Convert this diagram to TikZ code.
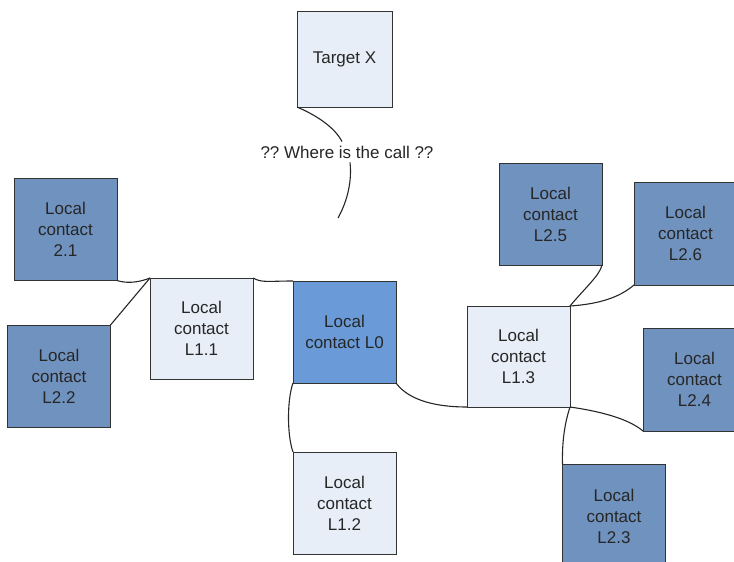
\documentclass[tikz,border=0pt]{standalone}
\usepackage{fontspec}
\setmainfont{Liberation Sans}
\usepackage{tikz}
\usetikzlibrary{positioning}
\definecolor{darkbox}{RGB}{112,146,190}
\definecolor{midbox}{RGB}{106,155,216}
\definecolor{lightbox}{RGB}{232,238,248}
\definecolor{edge}{RGB}{51,51,51}
\tikzstyle{contact} = [rectangle, minimum width=103pt, minimum height=102pt, inner sep=0pt, outer sep=0pt, align=center, draw=edge, line width=1pt, font=\fontsize{17}{21}\selectfont, text=black!85]
\tikzstyle{outer} = [contact, fill=darkbox]
\tikzstyle{inner} = [contact, fill=lightbox]
\tikzstyle{home} = [contact, fill=midbox]
\tikzstyle{link} = [line width=1.1pt, draw=black!85]

\begin{document}
\frenchspacing
\begin{tikzpicture}[x=1pt, y=-1pt]
    \useasboundingbox (0,0) rectangle (734,562);
    \clip (0,0) rectangle (734,562);
    % Nodes
    \node (target) [inner, minimum width=95pt, minimum height=96pt] at (344.5,59) {Target X};
    \node (call) [inner sep=4pt, font=\fontsize{17}{21}\selectfont, text=black!85] at (347,152) {?? Where is the call ??};
    \coordinate (callend) at (338,218);
    \node (c21) [outer] at (65.5,229.5) {Local\\contact\\2.1};
    \node (l22) [outer] at (59,376) {Local\\contact\\L2.2};
    \node (l11) [inner, minimum height=101pt] at (201.5,328.5) {Local\\contact\\L1.1};
    \node (l0) [home] at (344.5,332) {Local\\contact L0};
    \node (l12) [inner] at (344.5,503) {Local\\contact\\L1.2};
    \node (l13) [inner, minimum height=101pt] at (518.5,356.5) {Local\\contact\\L1.3};
    \node (l25) [outer] at (550.5,214) {Local\\contact\\L2.5};
    \node (l26) [outer, minimum height=103pt] at (685.5,233.5) {Local\\contact\\L2.6};
    \node (l24) [outer, minimum height=103pt] at (694.5,379.5) {Local\\contact\\L2.4};
    \node (l23) [outer, minimum height=104pt] at (614,516) {Local\\contact\\L2.3};

    % Connectors
    \draw [link] (target.south west) .. controls (318,116) and (335,128) .. ([xshift=-5pt]call.north);
    \draw [link] ([xshift=3pt]call.south) .. controls (352,180) and (348,200) .. (callend);
    \draw [link] (c21.south east) .. controls (128,284) and (140,282) .. (l11.north west);
    \draw [link] (l22.north east) -- (l11.north west);
    \draw [link] (l11.north east) .. controls (262,283) and (268,281) .. (l0.north west);
    \draw [link] (l0.south west) .. controls (287,400) and (287,435) .. (l12.north west);
    \draw [link] (l0.south east) .. controls (410,402) and (440,407) .. (l13.south west);
    \draw [link] (l13.north east) .. controls (585,288) and (600,275) .. (l25.south east);
    \draw [link] (l13.north east) .. controls (600,304) and (620,297) .. (l26.south west);
    \draw [link] (l13.south east) .. controls (605,412) and (630,420) .. (l24.south west);
    \draw [link] (l13.south east) .. controls (564,425) and (562,445) .. (l23.north west);
\end{tikzpicture}
\end{document}
